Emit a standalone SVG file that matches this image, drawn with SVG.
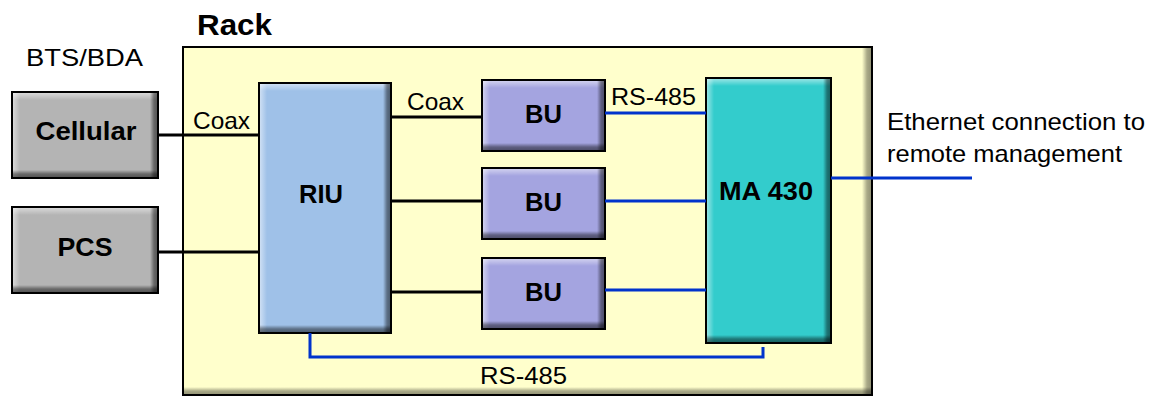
<svg xmlns="http://www.w3.org/2000/svg" width="1152" height="396" viewBox="0 0 1152 396">
<defs>
<linearGradient id="hlT" x1="0" y1="0" x2="0" y2="1"><stop offset="0" stop-color="#fff" stop-opacity="0.55"/><stop offset="1" stop-color="#fff" stop-opacity="0"/></linearGradient>
<linearGradient id="hlL" x1="0" y1="0" x2="1" y2="0"><stop offset="0" stop-color="#fff" stop-opacity="0.55"/><stop offset="1" stop-color="#fff" stop-opacity="0"/></linearGradient>
<linearGradient id="shB" x1="0" y1="0" x2="0" y2="1"><stop offset="0" stop-color="#000" stop-opacity="0"/><stop offset="0.5" stop-color="#000" stop-opacity="0.42"/><stop offset="1" stop-color="#000" stop-opacity="0.55"/></linearGradient>
<linearGradient id="shR" x1="0" y1="0" x2="1" y2="0"><stop offset="0" stop-color="#000" stop-opacity="0"/><stop offset="0.5" stop-color="#000" stop-opacity="0.42"/><stop offset="1" stop-color="#000" stop-opacity="0.55"/></linearGradient>
</defs>
<style>
text{font-family:"Liberation Sans",Arial,sans-serif;fill:#000}
.lbl{font-size:24px}
.b{font-weight:bold;font-size:26px;text-anchor:middle}
.bd{fill:none;stroke:#000;stroke-width:2}
.blk{fill:none;stroke:#000;stroke-width:3}
.blu{fill:none;stroke:#0033cc;stroke-width:3}
</style>

<g id="rack">
<rect x="183" y="47" width="689" height="348" fill="#ffffcc"/>
<rect x="862" y="47" width="10" height="348" fill="url(#shR)" opacity="0.8"/>
<rect x="183" y="387" width="689" height="8" fill="url(#shB)" opacity="0.8"/>
<rect x="183" y="47" width="689" height="348" class="bd"/>
<text x="197" y="35" font-size="30" font-weight="bold" textLength="75" lengthAdjust="spacingAndGlyphs">Rack</text>
</g>

<text class="lbl" x="26" y="66" textLength="117" lengthAdjust="spacingAndGlyphs">BTS/BDA</text>

<g id="cellular">
<rect x="12" y="92" width="146" height="86" fill="#b4b4b4"/>
<rect x="12" y="92" width="146" height="8" fill="url(#hlT)"/>
<rect x="12" y="92" width="8" height="86" fill="url(#hlL)"/>
<rect x="12" y="170" width="146" height="8" fill="url(#shB)"/>
<rect x="150" y="92" width="8" height="86" fill="url(#shR)"/>
<rect x="12" y="92" width="146" height="86" class="bd"/>
<text class="b" x="86" y="140" textLength="101" lengthAdjust="spacingAndGlyphs">Cellular</text>
</g>

<g id="pcs">
<rect x="12" y="207" width="146" height="86" fill="#b4b4b4"/>
<rect x="12" y="207" width="146" height="8" fill="url(#hlT)"/>
<rect x="12" y="207" width="8" height="86" fill="url(#hlL)"/>
<rect x="12" y="285" width="146" height="8" fill="url(#shB)"/>
<rect x="150" y="207" width="8" height="86" fill="url(#shR)"/>
<rect x="12" y="207" width="146" height="86" class="bd"/>
<text class="b" x="85" y="256" textLength="55" lengthAdjust="spacingAndGlyphs">PCS</text>
</g>

<g id="riu">
<rect x="259" y="83" width="132" height="250" fill="#9fc1e8"/>
<rect x="259" y="83" width="132" height="8" fill="url(#hlT)"/>
<rect x="259" y="83" width="8" height="250" fill="url(#hlL)"/>
<rect x="259" y="325" width="132" height="8" fill="url(#shB)"/>
<rect x="383" y="83" width="8" height="250" fill="url(#shR)"/>
<rect x="259" y="83" width="132" height="250" class="bd"/>
<text class="b" x="321" y="203" textLength="44" lengthAdjust="spacingAndGlyphs">RIU</text>
</g>

<g id="bu1">
<rect x="482" y="80" width="123" height="71" fill="#a4a4e0"/>
<rect x="482" y="80" width="123" height="8" fill="url(#hlT)"/>
<rect x="482" y="80" width="8" height="71" fill="url(#hlL)"/>
<rect x="482" y="143" width="123" height="8" fill="url(#shB)"/>
<rect x="597" y="80" width="8" height="71" fill="url(#shR)"/>
<rect x="482" y="80" width="123" height="71" class="bd"/>
<text class="b" x="543.5" y="123" textLength="37" lengthAdjust="spacingAndGlyphs">BU</text>
</g>

<g id="bu2">
<rect x="482" y="168" width="123" height="71" fill="#a4a4e0"/>
<rect x="482" y="168" width="123" height="8" fill="url(#hlT)"/>
<rect x="482" y="168" width="8" height="71" fill="url(#hlL)"/>
<rect x="482" y="231" width="123" height="8" fill="url(#shB)"/>
<rect x="597" y="168" width="8" height="71" fill="url(#shR)"/>
<rect x="482" y="168" width="123" height="71" class="bd"/>
<text class="b" x="543.5" y="211" textLength="37" lengthAdjust="spacingAndGlyphs">BU</text>
</g>

<g id="bu3">
<rect x="482" y="258" width="123" height="71" fill="#a4a4e0"/>
<rect x="482" y="258" width="123" height="8" fill="url(#hlT)"/>
<rect x="482" y="258" width="8" height="71" fill="url(#hlL)"/>
<rect x="482" y="321" width="123" height="8" fill="url(#shB)"/>
<rect x="597" y="258" width="8" height="71" fill="url(#shR)"/>
<rect x="482" y="258" width="123" height="71" class="bd"/>
<text class="b" x="543.5" y="301" textLength="37" lengthAdjust="spacingAndGlyphs">BU</text>
</g>

<g id="ma430">
<rect x="706" y="78" width="125" height="265" fill="#33cccc"/>
<rect x="706" y="78" width="125" height="8" fill="url(#hlT)"/>
<rect x="706" y="78" width="8" height="265" fill="url(#hlL)"/>
<rect x="706" y="335" width="125" height="8" fill="url(#shB)"/>
<rect x="823" y="78" width="8" height="265" fill="url(#shR)"/>
<rect x="706" y="78" width="125" height="265" class="bd"/>
<text class="b" x="766" y="200" textLength="94" lengthAdjust="spacingAndGlyphs">MA 430</text>
</g>

<g id="connectors">
<path class="blk" d="M158 135H259"/>
<path class="blk" d="M158 252H259"/>
<path class="blk" d="M391 117H482"/>
<path class="blk" d="M391 201H482"/>
<path class="blk" d="M391 292H482"/>
<path class="blu" d="M605 113H706"/>
<path class="blu" d="M605 201H706"/>
<path class="blu" d="M605 290H706"/>
<path class="blu" d="M831 178H972"/>
<path class="blu" d="M310 333V357H763V347"/>
<text class="lbl" x="193" y="129" textLength="57" lengthAdjust="spacingAndGlyphs">Coax</text>
<text class="lbl" x="407" y="110" textLength="57" lengthAdjust="spacingAndGlyphs">Coax</text>
<text class="lbl" x="611" y="105" textLength="85" lengthAdjust="spacingAndGlyphs">RS-485</text>
<text class="lbl" x="480" y="384" textLength="87" lengthAdjust="spacingAndGlyphs">RS-485</text>
<text class="lbl" x="887" y="130" textLength="258" lengthAdjust="spacingAndGlyphs">Ethernet connection to</text>
<text class="lbl" x="887" y="162" textLength="235" lengthAdjust="spacingAndGlyphs">remote management</text>
</g>
</svg>
